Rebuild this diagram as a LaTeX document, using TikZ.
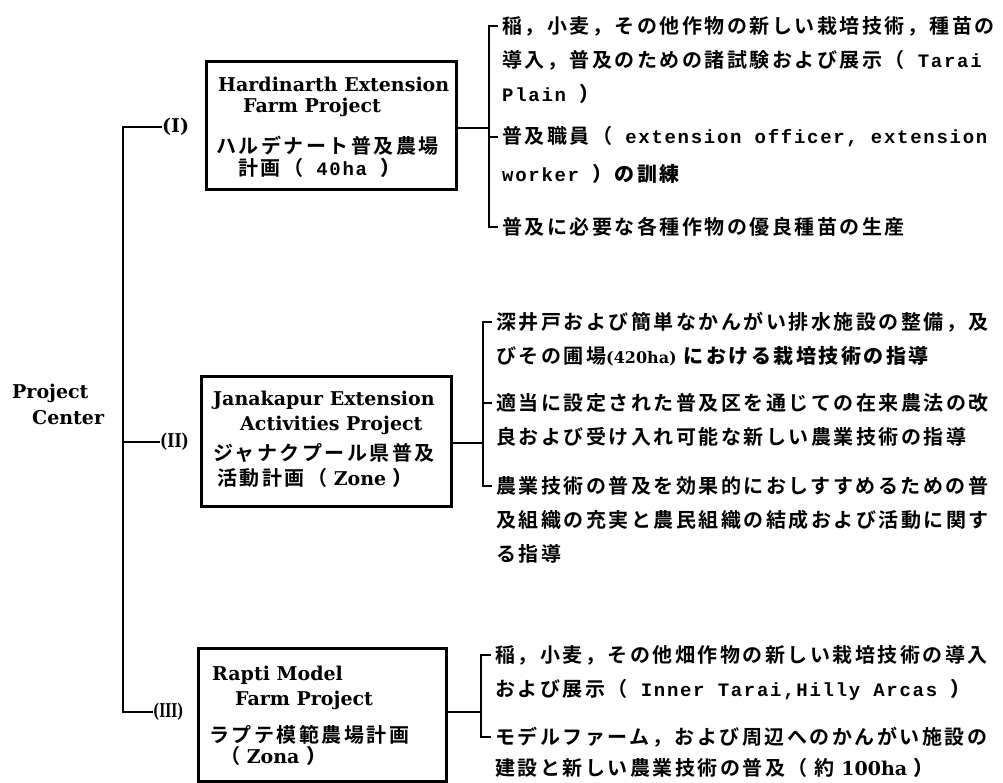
\documentclass[tikz,border=0pt]{standalone}
\usepackage{fontspec}
\usepackage{graphicx}
\setmainfont{DejaVu Serif}
\newfontfamily\jpf{Noto Sans CJK JP Bold}[LetterSpace=12.5]
\newfontfamily\monof{Liberation Mono}[LetterSpace=9]
\newfontfamily\serf{DejaVu Serif}
\newcommand\JP{\jpf\fontsize{20}{24}\selectfont}
\newcommand\MO{\monof\bfseries\fontsize{19}{23}\selectfont}
\newcommand\SE{\serf\bfseries\fontsize{19}{23}\selectfont}
\newcommand\SM{\serf\bfseries\fontsize{16}{20}\selectfont}
\begin{document}
\begin{tikzpicture}[x=1pt,y=-1pt]
\tikzset{
  conn/.style={line width=2.8pt, line join=miter},
  frame/.style={draw, line width=2.8pt, anchor=north west, inner sep=0pt},
  row/.style={anchor=west, inner sep=0pt},
  lbl/.style={anchor=west, inner sep=0pt, font=\SE},
}
\useasboundingbox (0,0) rectangle (1003,782);
\fill[white] (0,0) rectangle (1003,782);

% Project center
\node[lbl] (pc1) at (12,393) {Project};
\node[lbl] (pc2) at (32,418) {Center};

% level labels
\node[lbl] (lI) at (162,127) {(I)};
\node[lbl] (lII) at (160,442) {\scalebox{0.8}[1]{(II)}};
\node[lbl] (lIII) at (153,712) {\scalebox{0.68}[1]{(III)}};
\coordinate (mtop) at (123,127);
\coordinate (mbot) at (123,712);
\draw[conn] (lI.west) -- (mtop) -- (mbot) -- (lIII.west);
\draw[conn] (lII.west) -- (lII.west -| mtop);

% boxes
\node[frame, minimum width=250pt, minimum height=128pt] (boxI) at (205,60) {};
\node[frame, minimum width=250pt, minimum height=130pt] (boxII) at (200,375) {};
\node[frame, minimum width=248pt, minimum height=133pt] (boxIII) at (197,647) {};

% box I text
\node[row, font=\SE] (bI1) at (218,84) {Hardinarth Extension};
\node[row, font=\SE] (bI2) at (243,107) {Farm Project};
\node[row, font=\JP] (bI3) at (216,146) {ハルデナート普及農場};
\node[row] (bI4) at (238,168) {\JP 計画（\MO\ 40ha \JP）};

% box II text
\node[row, font=\SE] (bII1) at (213,400) {Janakapur Extension};
\node[row, font=\SE] (bII2) at (240,425) {Activities Project};
\node[row, font=\JP] (bII3) at (213,453) {ジャナクプール県普及};
\node[row] (bII4) at (217,478) {\JP 活動計画（\SE\ Zone \JP）};

% box III text
\node[row, font=\SE] (bIII1) at (212,675) {Rapti Model};
\node[row, font=\SE] (bIII2) at (235,700) {Farm Project};
\node[row, font=\JP] (bIII3) at (209,735) {ラプテ模範農場計画};
\node[row] (bIII4) at (220,756) {\JP（\SE\ Zona \JP）};

% group I text
\node[row, font=\JP] (r11) at (502,26) {稲，小麦，その他作物の新しい栽培技術，種苗の};
\node[row] (r12) at (502,60) {\JP 導入，普及のための諸試験および展示（\MO\ Tarai};
\node[row] (r13) at (502,94) {\MO Plain \JP）};
\node[row] (r14) at (502,137) {\JP 普及職員（\MO\ extension officer, extension};
\node[row] (r15) at (502,174) {\MO worker \JP）の訓練};
\node[row, font=\JP] (r16) at (502,227) {普及に必要な各種作物の優良種苗の生産};

% group II text
\node[row, font=\JP] (r21) at (496,322) {深井戸および簡単なかんがい排水施設の整備，及};
\node[row] (r22) at (496,356) {\JP びその圃場\SM(420ha)\JP\ における栽培技術の指導};
\node[row, font=\JP] (r23) at (496,403) {適当に設定された普及区を通じての在来農法の改};
\node[row, font=\JP] (r24) at (496,437) {良および受け入れ可能な新しい農業技術の指導};
\node[row, font=\JP] (r25) at (496,486) {農業技術の普及を効果的におしすすめるための普};
\node[row, font=\JP] (r26) at (496,520) {及組織の充実と農民組織の結成および活動に関す};
\node[row, font=\JP] (r27) at (496,554) {る指導};

% group III text
\node[row, font=\JP] (r31) at (495,655) {稲，小麦，その他畑作物の新しい栽培技術の導入};
\node[row] (r32) at (495,690) {\JP および展示（\MO\ Inner Tarai,Hilly Arcas \JP）};
\node[row, font=\JP] (r33) at (495,737) {モデルファーム，および周辺へのかんがい施設の};
\node[row] (r34) at (495,768) {\JP 建設と新しい農業技術の普及（ 約\SE\ 100ha \JP）};

% brackets
\coordinate (cI) at (489,128);
\coordinate (cII) at (483,443);
\coordinate (cIII) at (481,712);
\draw[conn] (boxI.east |- cI) -- (cI);
\draw[conn] ([xshift=-4pt]r11.west) -- (r11.west -| cI) -- (r16.west -| cI) -- ([xshift=-4pt]r16.west);
\draw[conn] (r14.west -| cI) -- ([xshift=-4pt]r14.west);

\draw[conn] (boxII.east |- cII) -- (cII);
\draw[conn] ([xshift=-4pt]r21.west) -- (r21.west -| cII) -- (r25.west -| cII) -- ([xshift=-4pt]r25.west);
\draw[conn] (r23.west -| cII) -- ([xshift=-4pt]r23.west);

\draw[conn] (boxIII.east |- cIII) -- (cIII);
\draw[conn] ([xshift=-4pt]r31.west) -- (r31.west -| cIII) -- (r33.west -| cIII) -- ([xshift=-4pt]r33.west);
\end{tikzpicture}
\end{document}
